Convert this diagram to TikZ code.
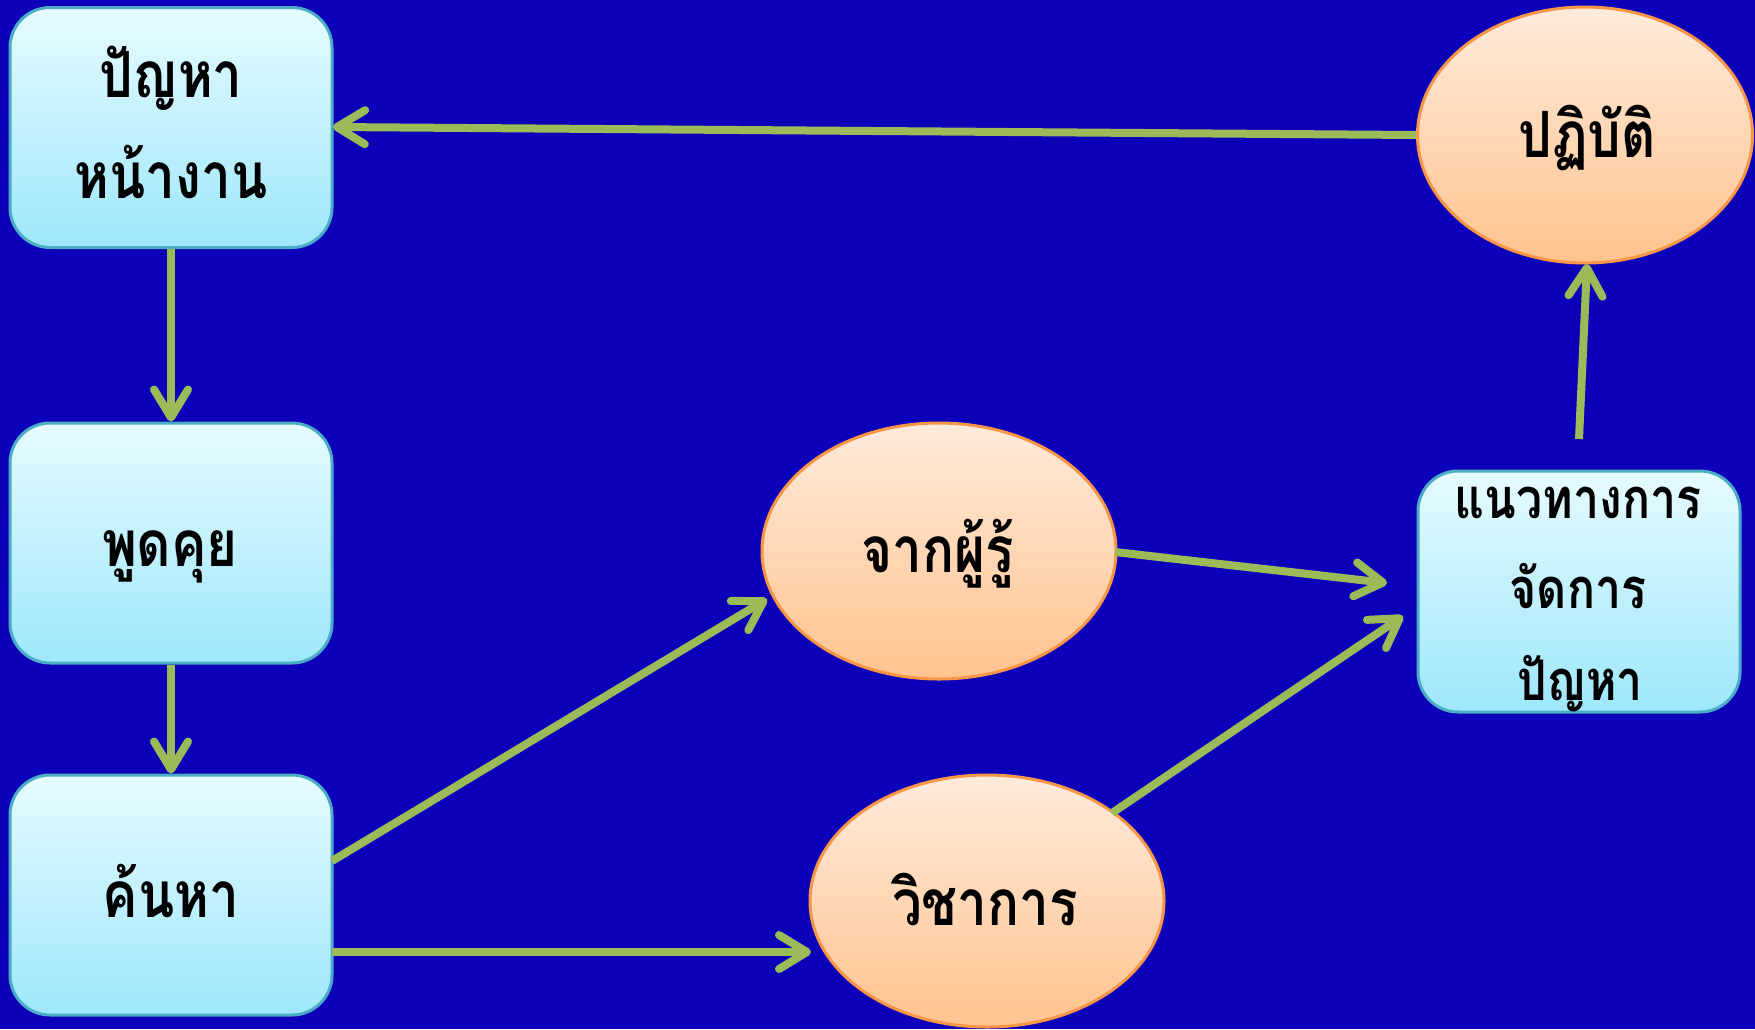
\documentclass[tikz,border=0pt]{standalone}
\usepackage{graphicx}
\usepackage{fontspec}
\newfontfamily\thaifont[Script=Thai]{Loma}
\usetikzlibrary{shapes.geometric,arrows.meta}
\definecolor{bg}{RGB}{12,0,185}
\definecolor{grn}{RGB}{155,187,89}
\definecolor{boxedge}{RGB}{75,172,198}
\definecolor{boxtop}{RGB}{230,251,255}
\definecolor{boxbot}{RGB}{158,231,251}
\definecolor{elledge}{RGB}{247,150,70}
\definecolor{elltop}{RGB}{255,235,220}
\definecolor{ellbot}{RGB}{255,195,142}
\newcommand\thtxt[1]{\scalebox{0.93}[1.12]{#1}}
\begin{document}
\begin{tikzpicture}[x=1pt,y=-1pt,
 boxnode/.style={draw=boxedge,line width=3pt,rounded corners=40pt,top color=boxtop,bottom color=boxbot,minimum width=322pt,minimum height=240pt,inner sep=0pt},
 ellnode/.style={ellipse,draw=elledge,line width=3pt,top color=elltop,bottom color=ellbot,inner sep=0pt},
 lbl/.style={font=\thaifont\bfseries\fontsize{57}{60}\selectfont,anchor=base,inner sep=0pt,text=black},
 lblsm/.style={lbl,font=\thaifont\bfseries\fontsize{50}{52}\selectfont},
 conn/.style={draw=grn,line width=8pt,-{Straight Barb[length=28pt,width=34pt,round]}}
]
\useasboundingbox (0,0) rectangle (1755,1029);
\fill[bg] (0,0) rectangle (1755,1029);

% boxes
\node[boxnode] (b1) at (171,127.5) {};
\node[boxnode] (b2) at (171,543) {};
\node[boxnode] (b3) at (171,895) {};
\node[boxnode,minimum height=241pt] (b4) at (1579,591.5) {};
% ellipses
\node[ellnode,minimum width=335pt,minimum height=256pt] (p) at (1585,135) {};
\node[ellnode,minimum width=354pt,minimum height=256pt] (e2) at (939,551) {};
\node[ellnode,minimum width=354pt,minimum height=252pt] (e3) at (987,901) {};

% labels
\node[lbl] (t1a) at (171,97) {\thtxt{ปัญหา}};
\node[lbl] (t1b) at (171,198) {\thtxt{หน้างาน}};
\node[lbl] (t2) at (170,566) {\thtxt{พูดคุย}};
\node[lbl] (t3) at (171,917) {\thtxt{ค้นหา}};
\node[lbl] (tp) at (1587,157) {\thtxt{ปฏิบัติ}};
\node[lbl] (te2) at (938,572) {\thtxt{จากผู้รู้}};
\node[lbl] (te3) at (985,925) {\thtxt{วิชาการ}};
\node[lblsm] (t4a) at (1578,518) {\thtxt{แนวทางการ}};
\node[lblsm] (t4b) at (1578,608) {\thtxt{จัดการ}};
\node[lblsm] (t4c) at (1580,700) {\thtxt{ปัญหา}};

% connector end points
\coordinate (a4s) at (332,861);
\coordinate (a4e) at (767,599);
\coordinate (a5s) at (332,952);
\coordinate (a5e) at (811,952);
\coordinate (a6s) at (1115,552);
\coordinate (a6e) at (1387,583);
\coordinate (a7s) at (1112,813);
\coordinate (a7e) at (1403,616);
\coordinate (a8s) at (1579,439);
\coordinate (a8e) at (1587,264);
\coordinate (a1e) at (333,127);

\draw[conn] (p.west) -- (a1e);
\draw[conn] (b1.south) -- (b2.north);
\draw[conn] (b2.south) -- (b3.north);
\draw[conn] (a4s) -- (a4e);
\draw[conn] (a5s) -- (a5e);
\draw[conn] (a6s) -- (a6e);
\draw[conn] (a7s) -- (a7e);
\draw[conn] (a8s) -- (a8e);
\end{tikzpicture}
\end{document}
